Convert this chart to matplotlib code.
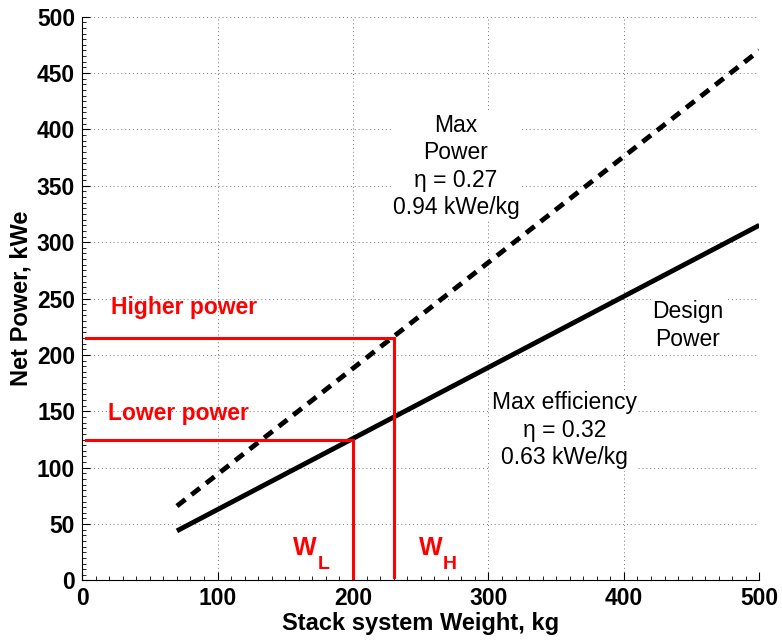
import numpy as np
import matplotlib.pyplot as plt
from matplotlib.ticker import MultipleLocator

plt.rcParams['font.family'] = ['Liberation Sans', 'DejaVu Sans']

# Data
weight = [70, 500]                 # kg
design_power = [44, 315]           # 0.63 kWe/kg
max_power = [66, 470]              # 0.94 kWe/kg
lower_w, lower_p = 200, 125
higher_w, higher_p = 230, 215

fig = plt.figure(figsize=(7.82, 6.4), dpi=100)
ax = fig.add_axes([0.105, 0.093, 0.866, 0.881])

# Lines
ax.plot(weight, design_power, color='black', lw=3.5, solid_capstyle='butt')
ax.plot(weight, max_power, color='black', lw=3.5, ls=(0, (2.2, 1.6)))

# Red guides
ax.plot([3, lower_w], [lower_p, lower_p], color='red', lw=2.2)
ax.plot([lower_w, lower_w], [0, lower_p], color='red', lw=2.2)
ax.plot([3, higher_w], [higher_p, higher_p], color='red', lw=2.2)
ax.plot([higher_w, higher_w], [3, higher_p], color='red', lw=2.2)

# Annotations
red = dict(color='red', fontweight='bold', va='center')
ax.text(21, 242, 'Higher power', fontsize=16.5, **red)
ax.text(19, 148, 'Lower power', fontsize=16.5, **red)
ax.text(156, 29, 'W', fontsize=18, **red)
ax.text(174, 14, 'L', fontsize=14, **red)
ax.text(249, 29, 'W', fontsize=18, **red)
ax.text(266, 14, 'H', fontsize=14, **red)

bg = dict(facecolor='white', edgecolor='none', pad=1)
ax.text(276, 367, 'Max\nPower\n\u03b7 = 0.27\n0.94 kWe/kg', fontsize=16.5,
        ha='center', va='center', linespacing=1.25, bbox=bg)
ax.text(447, 226, 'Design\nPower', fontsize=16.5, ha='center', va='center',
        linespacing=1.25, bbox=bg)
ax.text(356, 133, 'Max efficiency\n\u03b7 = 0.32\n0.63 kWe/kg', fontsize=16.5,
        ha='center', va='center', linespacing=1.25, bbox=bg)

# Axes styling
ax.set_xlim(0, 500)
ax.set_ylim(0, 500)
ax.xaxis.set_major_locator(MultipleLocator(100))
ax.yaxis.set_major_locator(MultipleLocator(50))
ax.xaxis.set_minor_locator(MultipleLocator(10))
ax.yaxis.set_minor_locator(MultipleLocator(5))
ax.tick_params(which='both', direction='in')
ax.tick_params(which='major', length=6, labelsize=16.5, pad=5)
ax.tick_params(which='minor', length=3)
for lbl in ax.get_xticklabels() + ax.get_yticklabels():
    lbl.set_fontweight('bold')
ax.spines['top'].set_visible(False)
ax.spines['right'].set_visible(False)
ax.grid(True, ls=(0, (1, 3)), color='#777777', lw=0.7)
ax.set_axisbelow(True)

ax.set_xlabel('Stack system Weight, kg', fontsize=17, fontweight='bold',
              labelpad=1)
ax.set_ylabel('Net Power, kWe', fontsize=17, fontweight='bold', labelpad=3)

fig.savefig('out.png', dpi=100)
